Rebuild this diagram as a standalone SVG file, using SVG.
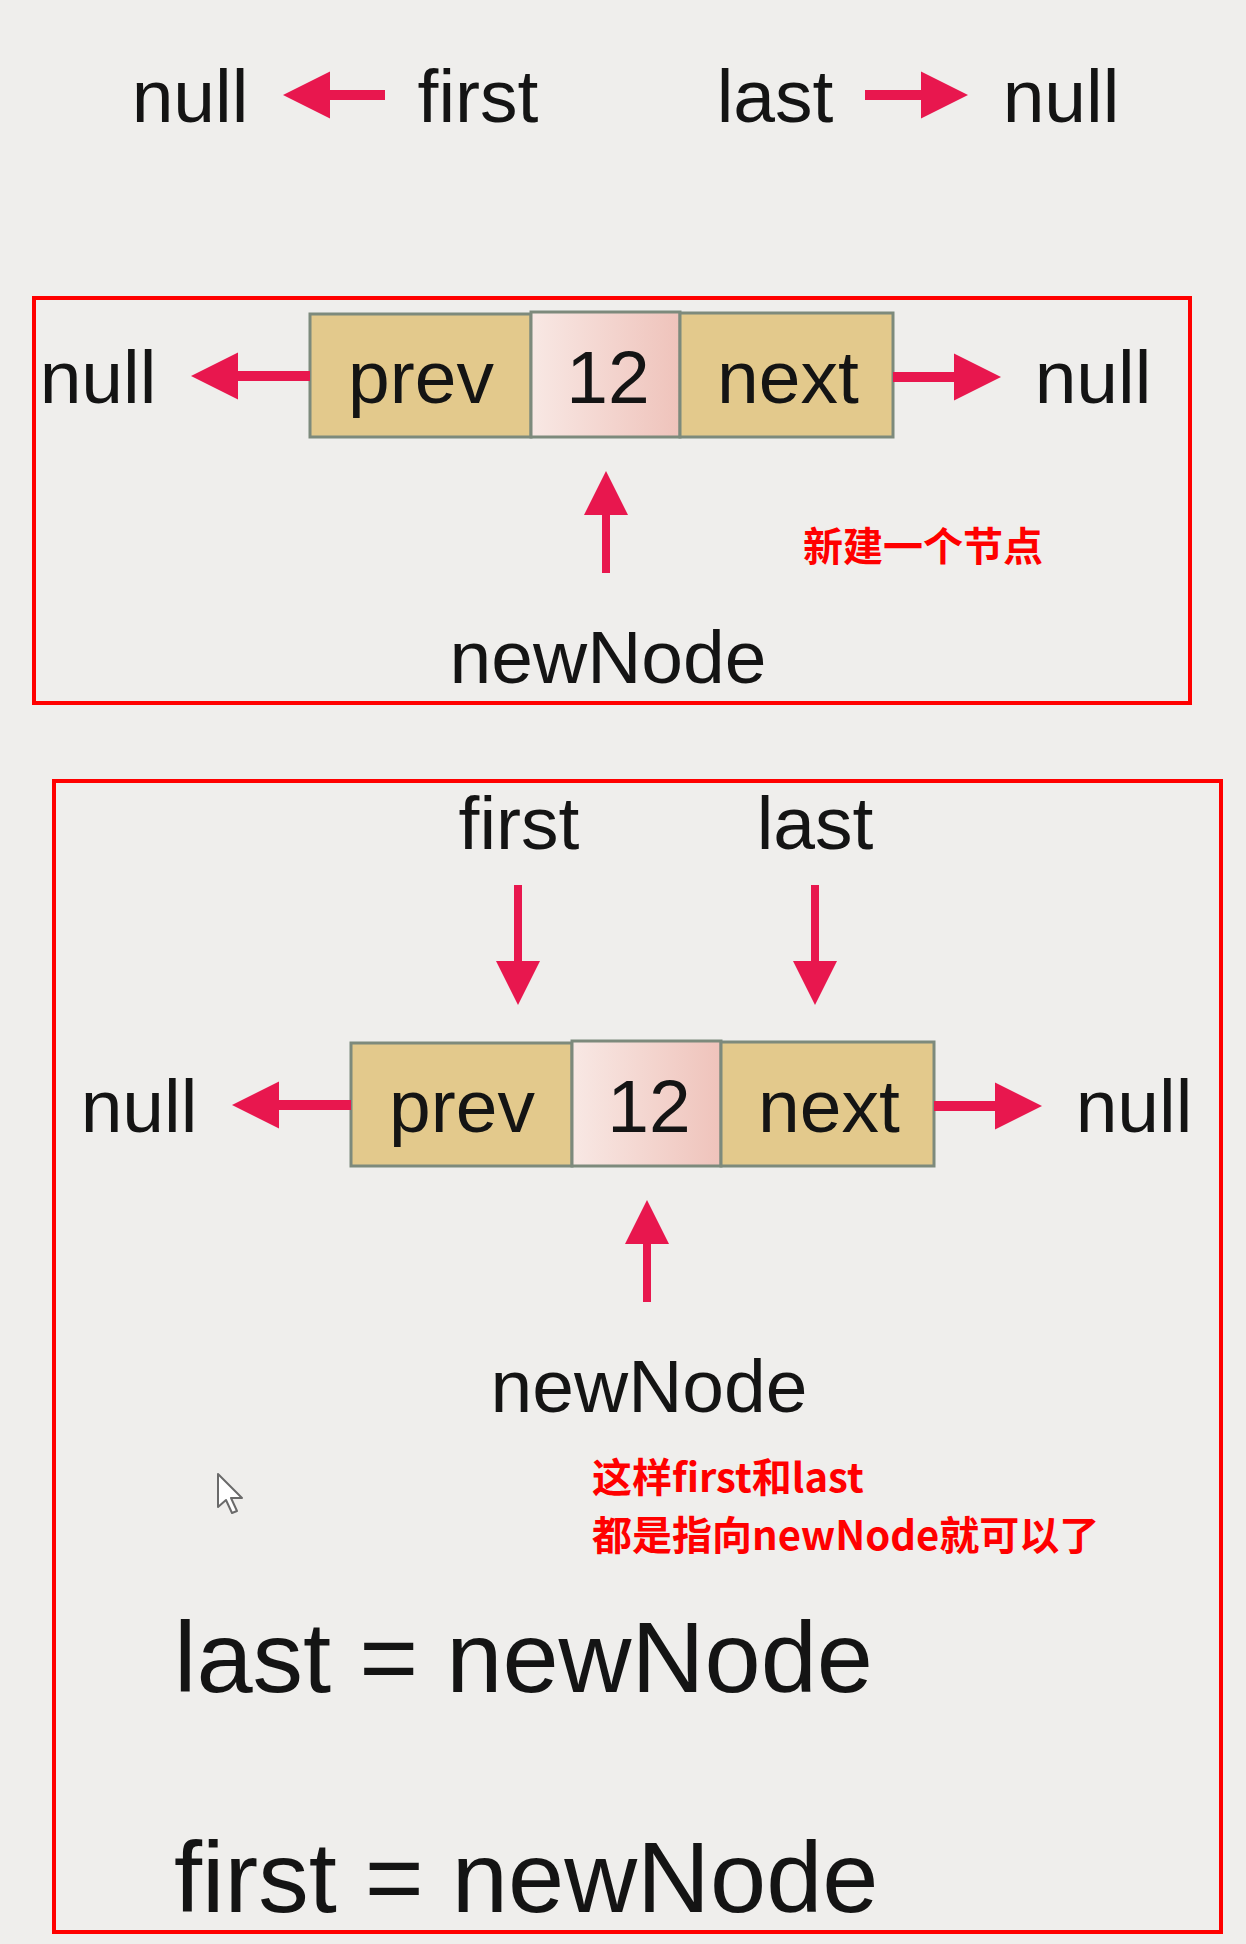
<svg xmlns="http://www.w3.org/2000/svg" width="1246" height="1944" viewBox="0 0 1246 1944">
<defs>
<style>
.t{font-family:"Liberation Sans",Arial,Helvetica,sans-serif;font-size:75px;fill:#141414;text-anchor:middle}
.big{font-family:"Liberation Sans",Arial,Helvetica,sans-serif;font-size:101px;fill:#141414}
.red{font-family:"Noto Sans CJK SC","Liberation Sans",sans-serif;font-size:40px;font-weight:bold;fill:#ff0000}
.frame{fill:none;stroke:#ff0000;stroke-width:4}
.cell{fill:#e3c98c;stroke:#7d8a7c;stroke-width:3}
.mid{fill:url(#pink);stroke:#7d8a7c;stroke-width:3}
.h{stroke:#e8174e;stroke-width:10;marker-end:url(#head)}
.v{stroke:#e8174e;stroke-width:8;marker-end:url(#headv)}
</style>
<linearGradient id="pink" x1="0" y1="0" x2="1" y2="0">
<stop offset="0" stop-color="#f8e8e4"/>
<stop offset="1" stop-color="#efc3bb"/>
</linearGradient>
<marker id="head" viewBox="0 0 10 10" refX="0" refY="5" markerUnits="userSpaceOnUse" markerWidth="47" markerHeight="48" orient="auto">
<path d="M0,0 L10,5 L0,10 z" fill="#e8174e"/>
</marker>
<marker id="headv" viewBox="0 0 10 10" refX="0" refY="5" markerUnits="userSpaceOnUse" markerWidth="48" markerHeight="44" orient="auto">
<path d="M0,0 L10,5 L0,10 z" fill="#e8174e"/>
</marker>
</defs>
<rect width="1246" height="1944" fill="#efeeec"/>

<g id="top-row">
<text class="t" x="190" y="122">null</text>
<text class="t" x="478" y="122">first</text>
<text class="t" x="775" y="122">last</text>
<text class="t" x="1061" y="122">null</text>
</g>

<g id="frame1">
<rect class="frame" x="34" y="298" width="1156" height="405"/>
</g>
<g id="node1">
<rect class="cell" x="310" y="314" width="221" height="123"/>
<rect class="mid" x="531" y="312" width="149" height="125"/>
<rect class="cell" x="680" y="313" width="213" height="124"/>
<text class="t" x="421" y="403">prev</text>
<text class="t" x="608" y="403">12</text>
<text class="t" x="788" y="403">next</text>
</g>
<g id="null1-left"><text class="t" x="98" y="403">null</text></g>
<g id="null1-right"><text class="t" x="1093" y="403">null</text></g>
<g id="newNode1"><text class="t" x="608" y="683">newNode</text></g>
<g id="note1"><text class="red" x="803" y="561">新建一个节点</text></g>

<g id="frame2">
<rect class="frame" x="54" y="781" width="1167" height="1151"/>
</g>
<g id="first2"><text class="t" x="519" y="849">first</text></g>
<g id="last2"><text class="t" x="815" y="849">last</text></g>
<g id="node2">
<rect class="cell" x="351" y="1043" width="221" height="123"/>
<rect class="mid" x="572" y="1041" width="149" height="125"/>
<rect class="cell" x="721" y="1042" width="213" height="124"/>
<text class="t" x="462" y="1132">prev</text>
<text class="t" x="649" y="1132">12</text>
<text class="t" x="829" y="1132">next</text>
</g>
<g id="null2-left"><text class="t" x="139" y="1132">null</text></g>
<g id="null2-right"><text class="t" x="1134" y="1132">null</text></g>
<g id="newNode2"><text class="t" x="649" y="1412">newNode</text></g>
<g id="note2">
<text class="red" x="592" y="1492">这样first和last</text>
<text class="red" x="592" y="1550">都是指向newNode就可以了</text>
</g>
<g id="code">
<text class="big" x="174" y="1692">last = newNode</text>
<text class="big" x="174" y="1912">first = newNode</text>
</g>
<g id="cursor">
<path d="M218,1474 L218,1507 L226,1500 L232,1513 L237,1511 L231,1498 L242,1498 Z" fill="#ffffff" stroke="#6a6a6a" stroke-width="2" stroke-linejoin="round"/>
</g>

<g id="connectors">
<line class="h" x1="385" y1="95" x2="330" y2="95"/>
<line class="h" x1="865" y1="95" x2="921" y2="95"/>
<line class="h" x1="310" y1="376" x2="238" y2="376"/>
<line class="h" x1="893" y1="377" x2="954" y2="377"/>
<line class="v" x1="606" y1="573" x2="606" y2="515"/>
<line class="v" x1="518" y1="885" x2="518" y2="961"/>
<line class="v" x1="815" y1="885" x2="815" y2="961"/>
<line class="h" x1="351" y1="1105" x2="279" y2="1105"/>
<line class="h" x1="934" y1="1106" x2="995" y2="1106"/>
<line class="v" x1="647" y1="1302" x2="647" y2="1244"/>
</g>
</svg>
